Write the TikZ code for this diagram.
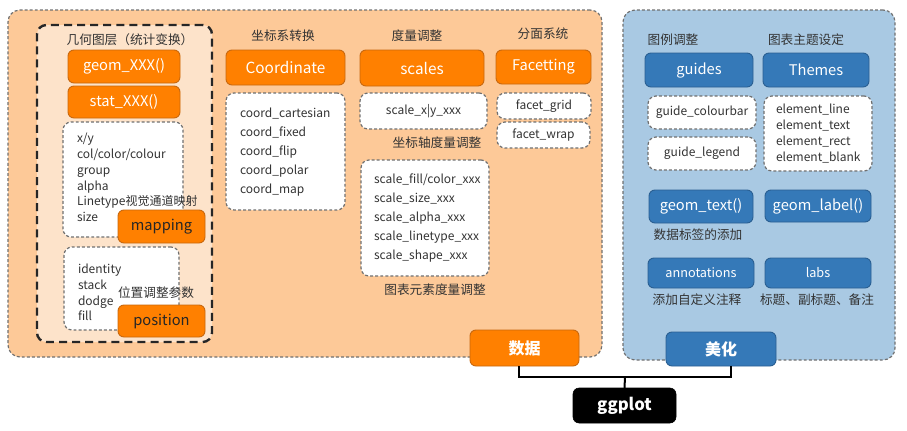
\documentclass[tikz,border=0pt]{standalone}
\usepackage{fontspec}
\setmainfont{Noto Sans CJK SC}
\usetikzlibrary{positioning}
\definecolor{orbg}{HTML}{FDC998}
\definecolor{orin}{HTML}{FDE3CA}
\definecolor{orbox}{HTML}{FF8000}
\definecolor{orline}{HTML}{C8680E}
\definecolor{blbg}{HTML}{A9C9E3}
\definecolor{blbox}{HTML}{3579B8}
\definecolor{blline}{HTML}{2A5F92}
\definecolor{dashgray}{HTML}{707070}
\definecolor{txtgray}{HTML}{333333}
\begin{document}
\begin{tikzpicture}[x=0.75pt,y=-0.75pt,
  wh/.style 2 args={minimum width=#1*0.75pt,minimum height=#2*0.75pt},
  base/.style={inner sep=0pt,outer sep=0pt},
  obox/.style={base,fill=orbox,draw=orline,line width=0.7pt,rounded corners=4.5pt,text=white,font=\fontsize{11}{13}\selectfont},
  odark/.style={obox,text=black!85},
  bbox/.style={base,fill=blbox,draw=blline,line width=0.7pt,rounded corners=4.5pt,text=white,font=\fontsize{11}{13}\selectfont},
  wbox/.style={base,fill=white,draw=dashgray,line width=0.9pt,dash pattern=on 2.2pt off 1.6pt,rounded corners=6pt,text=txtgray,font=\fontsize{9}{11}\selectfont},
  outer/.style={base,draw=dashgray,line width=0.9pt,dash pattern=on 2.2pt off 1.6pt,rounded corners=9pt},
  ttl/.style={base,text=black!80,font=\fontsize{9.5}{11}\selectfont},
  lst/.style={base,text=txtgray,align=left,anchor=west},
  conn/.style={line width=1.5pt,black}]
\useasboundingbox (0,0) rectangle (907,430);
% outer panels
\node[outer,fill=orbg,wh={594}{347}] (datapanel) at (305,183.5) {};
\node[outer,fill=blbg,wh={272}{350}] (beautypanel) at (759,185) {};
% geom layer
\node[base,fill=orin,draw=black!85,line width=1.8pt,dash pattern=on 6pt off 3.8pt,rounded corners=7pt,wh={175}{317}] (geomlayer) at (124.5,183.5) {};
\node[ttl] (tgeom) at (130,40) {几何图层（统计变换）};
\node[obox,wh={112}{33}] (geom) at (124,66.5) {geom\_XXX()};
\node[obox,wh={112}{32}] (stat) at (124,102) {stat\_XXX()};
\node[wbox,wh={120}{115}] (maplist) at (123,179.5) {};
\node[lst,font=\fontsize{9}{11.85}\selectfont] (maptxt) at (77,177.5) {x/y\\col/color/colour\\group\\alpha\\Linetype视觉通道映射\\size};
\node[odark,wh={87}{33}] (mapping) at (161.5,226.5) {mapping};
\node[wbox,wh={115}{83}] (poslist) at (121.5,288.5) {};
\node[lst,font=\fontsize{9}{11.8}\selectfont] (postxt) at (78,292.5) {identity\\stack\\dodge\\fill};
\node[ttl] (tpos) at (156,293) {位置调整参数};
\node[odark,wh={87}{32}] (position) at (161.5,321) {position};
% coordinate
\node[ttl] (tcoord) at (283,36) {坐标系转换};
\node[obox,wh={119}{35},font=\fontsize{11.5}{13}\selectfont] (coord) at (285.5,67.5) {Coordinate};
\node[wbox,wh={119}{117}] (coordlist) at (285.5,151.5) {};
\node[lst,font=\fontsize{9}{14.25}\selectfont] (coordtxt) at (240,152) {coord\_cartesian\\coord\_fixed\\coord\_flip\\coord\_polar\\coord\_map};
% scales
\node[ttl] (tscale) at (417,36) {度量调整};
\node[obox,wh={124}{36},font=\fontsize{11.5}{13}\selectfont] (scales) at (422,68) {scales};
\node[wbox,wh={127}{36}] (scalexy) at (423.5,111) {scale\_x|y\_xxx};
\node[ttl] (taxis) at (437,143) {坐标轴度量调整};
\node[wbox,wh={128}{116}] (scalelist) at (425,218) {};
\node[lst,font=\fontsize{9}{14.25}\selectfont] (scaletxt) at (374,218) {scale\_fill/color\_xxx\\scale\_size\_xxx\\scale\_alpha\_xxx\\scale\_linetype\_xxx\\scale\_shape\_xxx};
\node[ttl] (telem) at (435,290) {图表元素度量调整};
\node[obox,wh={109}{36},font=\fontsize{12}{14}\selectfont\bfseries] (shuju) at (524.5,348) {数据};
% facetting
\node[ttl] (tfacet) at (543,34) {分面系统};
\node[obox,wh={95}{34}] (facet) at (543.5,67) {Facetting};
\node[wbox,wh={94}{26}] (fgrid) at (544,106) {facet\_grid};
\node[wbox,wh={93}{26}] (fwrap) at (543.5,135) {facet\_wrap};
% beauty panel
\node[ttl] (tguide) at (673,40) {图例调整};
\node[ttl] (ttheme) at (806,40) {图表主题设定};
\node[bbox,wh={108}{34}] (guides) at (699,70) {guides};
\node[bbox,wh={106}{34}] (themes) at (816,70) {Themes};
\node[wbox,wh={108}{33}] (gcbar) at (702,112.5) {guide\_colourbar};
\node[wbox,wh={108}{33}] (glegend) at (702,153.5) {guide\_legend};
\node[wbox,wh={108}{75}] (elemlist) at (818,133.5) {};
\node[lst,font=\fontsize{9}{12}\selectfont] (elemtxt) at (776,134) {element\_line\\element\_text\\element\_rect\\element\_blank};
\node[bbox,wh={104}{33}] (gtext) at (701,206.5) {geom\_text()};
\node[bbox,wh={106}{32}] (glabel) at (818,206) {geom\_label()};
\node[ttl] (tlabel) at (698,235) {数据标签的添加};
\node[bbox,wh={106}{30},font=\fontsize{9.5}{11}\selectfont] (annot) at (701,273) {annotations};
\node[bbox,wh={106}{30},font=\fontsize{9.5}{11}\selectfont] (labs) at (818,273) {labs};
\node[ttl] (tannot) at (697,300) {添加自定义注释};
\node[ttl] (tlabs) at (817,300) {标题、副标题、备注};
\node[bbox,wh={110}{34},font=\fontsize{12}{14}\selectfont\bfseries] (meihua) at (721,349) {美化};
% ggplot
\node[base,fill=black,draw=black,rounded corners=4.5pt,wh={103}{35},text=white,font=\fontsize{12.5}{14}\selectfont\bfseries] (ggplot) at (624.5,405.5) {ggplot};
\coordinate (junc) at (625,377);
\draw[conn] ([xshift=-4.5pt]shuju.south) |- (junc) -| ([xshift=7.5pt]meihua.south);
\draw[conn] (junc) -- (ggplot.north);
\end{tikzpicture}
\end{document}
